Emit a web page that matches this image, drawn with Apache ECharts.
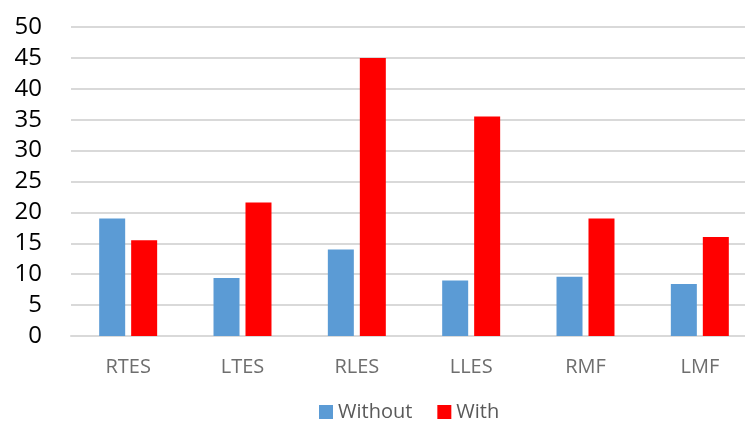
<!DOCTYPE html>
<html>
<head>
<meta charset="utf-8">
<script src="https://cdn.jsdelivr.net/npm/echarts@6/dist/echarts.min.js"></script>
<style>
  html, body { margin: 0; padding: 0; background: #fff; }
  #main { width: 745px; height: 422px; }
</style>
</head>
<body>
<div id="main"></div>
<script>
var categories = ['RTES', 'LTES', 'RLES', 'LLES', 'RMF', 'LMF'];
var withoutData = [19, 9.4, 14, 9, 9.6, 8.4];
var withData = [15.5, 21.6, 45, 35.5, 19, 16];

var myChart = echarts.init(document.getElementById('main'));

var option = {
    animation: false,
    textStyle: { fontFamily: 'Open Sans' },
    grid: {
        left: 71,
        top: 27,
        width: 686,
        height: 309,
        outerBoundsMode: 'none'
    },
    legend: {
        data: ['Without', 'With'],
        top: 402,
        left: 319,
        padding: 0,
        itemWidth: 14,
        itemHeight: 14,
        itemGap: 25,
        icon: 'rect',
        textStyle: { fontSize: 20, lineHeight: 20, color: '#595959', fontFamily: 'Open Sans' }
    },
    xAxis: {
        type: 'category',
        data: categories,
        axisTick: { show: false },
        axisLine: { lineStyle: { color: '#d9d9d9', width: 2 } },
        axisLabel: { fontSize: 20, color: '#6e6e6e', margin: 21 }
    },
    yAxis: {
        type: 'value',
        min: 0,
        max: 50,
        interval: 5,
        axisLine: { show: false },
        axisTick: { show: false },
        splitLine: { lineStyle: { color: '#d9d9d9', width: 2 } },
        axisLabel: { fontSize: 24, color: '#000', margin: 29 }
    },
    series: [
        {
            name: 'Without',
            type: 'bar',
            data: withoutData,
            barWidth: 26,
            barGap: '23%',
            itemStyle: { color: '#5b9bd5' }
        },
        {
            name: 'With',
            type: 'bar',
            data: withData,
            barWidth: 26,
            itemStyle: { color: '#ff0000' }
        }
    ]
};

myChart.setOption(option);
</script>
</body>
</html>
